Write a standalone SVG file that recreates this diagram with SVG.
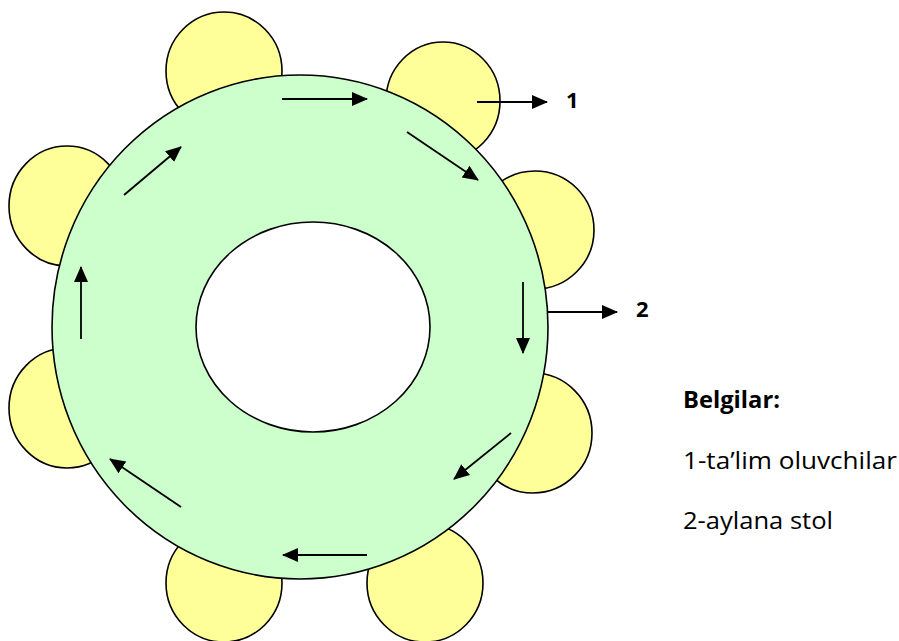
<svg xmlns="http://www.w3.org/2000/svg" width="899" height="641" viewBox="0 0 899 641">
<style>
.seat{fill:#FFFF99;stroke:#000;stroke-width:1.6}
.table{fill:#CCFFCC;stroke:#000;stroke-width:1.6}
.hole{fill:#FFFFFF;stroke:#000;stroke-width:1.6}
.arr{stroke:#000;stroke-width:1.8;fill:none;marker-end:url(#ah)}
.lbl{font-family:"Open Sans","Liberation Sans",sans-serif;font-size:23px;fill:#000}
.num{font-family:"Open Sans","Liberation Sans",sans-serif;font-size:22px;font-weight:bold;fill:#000}
.b{font-weight:bold}
</style>
<defs>
<marker id="ah" markerUnits="userSpaceOnUse" markerWidth="16" markerHeight="16" viewBox="0 0 16 16" refX="15" refY="8" orient="auto">
<path d="M0,1 L16,8 L0,15 Z" fill="#000"/>
</marker>
</defs>
<rect width="899" height="641" fill="#FFFFFF"/>
<g id="seats">
<g id="seat-top"><ellipse class="seat" cx="224" cy="71" rx="58" ry="59"/></g>
<g id="seat-topright"><ellipse class="seat" cx="443" cy="101" rx="57" ry="59"/></g>
<g id="seat-right"><ellipse class="seat" cx="535" cy="230" rx="59" ry="59"/></g>
<g id="seat-rightlower"><ellipse class="seat" cx="533" cy="433" rx="59" ry="60"/></g>
<g id="seat-bottomright"><ellipse class="seat" cx="425" cy="583" rx="58" ry="59"/></g>
<g id="seat-bottomleft"><ellipse class="seat" cx="224" cy="583" rx="58" ry="59"/></g>
<g id="seat-leftlower"><ellipse class="seat" cx="67" cy="408" rx="58" ry="60"/></g>
<g id="seat-leftupper"><ellipse class="seat" cx="67" cy="206" rx="58" ry="60"/></g>
</g>
<g id="table">
<ellipse class="table" cx="300" cy="327" rx="248" ry="252"/>
<ellipse class="hole" cx="313" cy="327" rx="117" ry="105"/>
</g>
<g id="connectors">
<line class="arr" x1="282" y1="99" x2="367" y2="99"/>
<line class="arr" x1="407" y1="132" x2="478" y2="180"/>
<line class="arr" x1="523" y1="282" x2="523" y2="353"/>
<line class="arr" x1="511" y1="433" x2="454" y2="479"/>
<line class="arr" x1="367" y1="555" x2="283" y2="555"/>
<line class="arr" x1="181" y1="507" x2="110" y2="459"/>
<line class="arr" x1="81" y1="339" x2="81" y2="267"/>
<line class="arr" x1="124" y1="195" x2="181" y2="147"/>
<line class="arr" x1="477" y1="102" x2="547" y2="102"/>
<line class="arr" x1="547" y1="312" x2="617" y2="312"/>
</g>
<g id="labels">
<text class="num" x="566" y="108">1</text>
<text class="num" x="636" y="317">2</text>
</g>
<g id="legend">
<text class="lbl b" x="683" y="408" textLength="97" lengthAdjust="spacingAndGlyphs">Belgilar:</text>
<text class="lbl" x="683" y="469" textLength="214" lengthAdjust="spacingAndGlyphs">1-ta’lim oluvchilar</text>
<text class="lbl" x="683" y="529" textLength="150" lengthAdjust="spacingAndGlyphs">2-aylana stol</text>
</g>
</svg>
